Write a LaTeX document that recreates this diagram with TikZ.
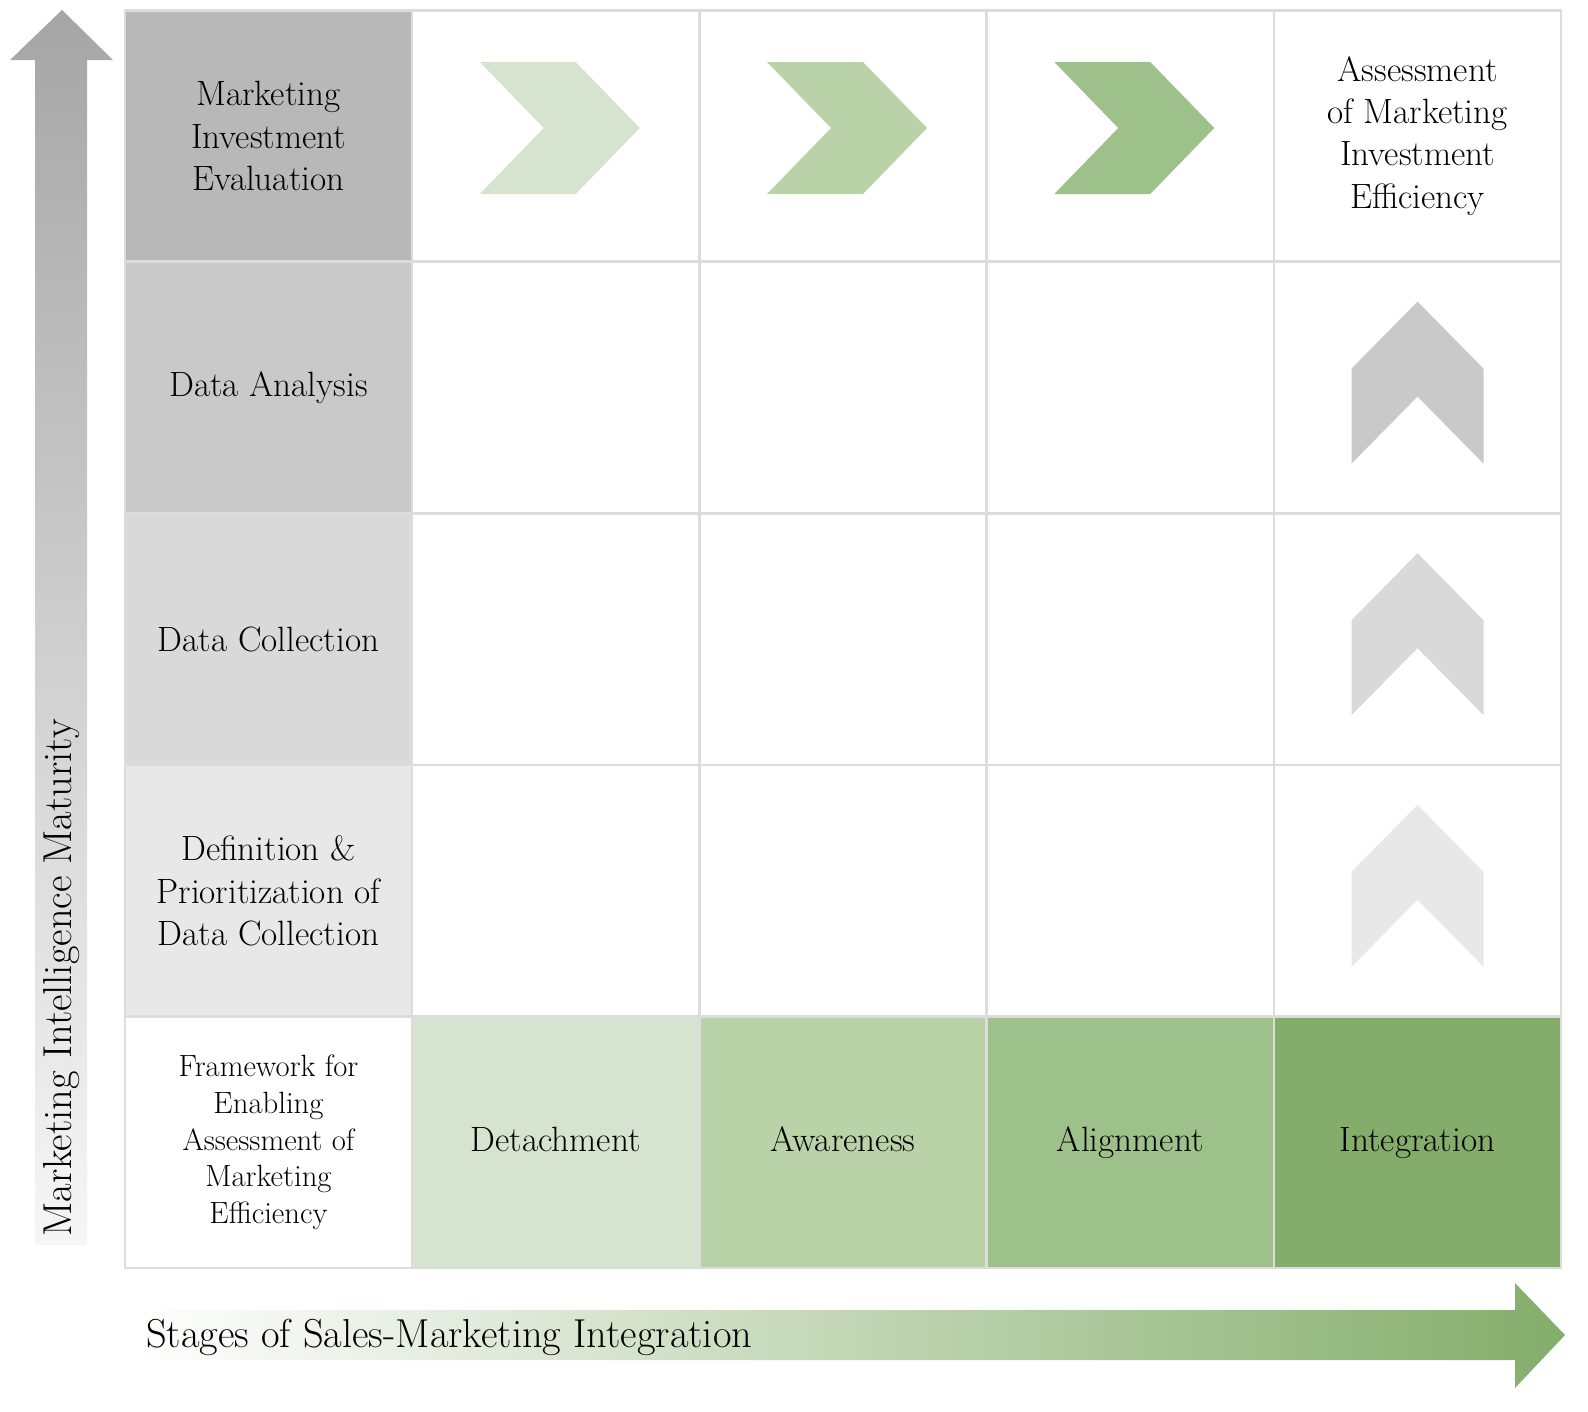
\documentclass[tikz,border=0pt]{standalone}
\usepackage{amsmath}
\usetikzlibrary{positioning, shapes, arrows.meta}
\definecolor{gridline}{HTML}{DCDCDC}
\definecolor{greyA}{HTML}{B8B8B8}
\definecolor{greyB}{HTML}{C9C9C9}
\definecolor{greyC}{HTML}{D9D9D9}
\definecolor{greyD}{HTML}{E8E8E8}
\definecolor{greenA}{HTML}{D6E3CE}
\definecolor{greenB}{HTML}{B9D2A8}
\definecolor{greenC}{HTML}{9EC08A}
\definecolor{greenD}{HTML}{84AD6B}
\newcommand{\txt}{\fontsize{20}{24}\selectfont}

\begin{document}
\begin{tikzpicture}[
	x=0.02cm,
	y=-0.02cm,
	every cell/.style={draw=gridline, line width=1.2pt, minimum width=5.74cm, minimum height=5.02cm, align=center, font=\txt, inner sep=0pt},
	stage/.style={every cell, text height=14pt, text depth=4pt}
]
\useasboundingbox (0,0) rectangle (1588,1411);

% vertical arrow
\shade[top color=greyA!90!black, bottom color=greyD!40] (35,1245) -- (35,60) -- (10,60) -- (62,10) -- (113,60) -- (87,60) -- (87,1245) -- cycle;
\node[rotate=90, anchor=west, font=\fontsize{23}{27}\selectfont] (ylab) at (62,1243) {Marketing Intelligence Maturity};

% horizontal arrow
\shade[left color=white, right color=greenD] (130,1310) -- (1515,1310) -- (1515,1283) -- (1565,1335) -- (1515,1388) -- (1515,1360) -- (130,1360) -- cycle;
\node[anchor=west, font=\fontsize{23}{27}\selectfont] (xlab) at (140,1337) {Stages of Sales-Marketing Integration};

% grid
\foreach \c in {0,...,4}
  \foreach \r in {0,...,4}
    \node[every cell/.try] (c\c\r) at ({268.5+287.25*\c},{136+251.6*\r}) {};

% row headers
\node[every cell/.try, fill=greyA] (h0) at (c00) {Marketing\\Investment\\Evaluation};
\node[every cell/.try, fill=greyB] (h1) at (c01) {Data Analysis};
\node[every cell/.try, fill=greyC] (h2) at (c02) {Data Collection};
\node[every cell/.try, fill=greyD] (h3) at (c03) {Definition \&\\Prioritization of\\Data Collection};
\node[every cell/.try, fill=white, font=\fontsize{17.5}{21}\selectfont] (h4) at (c04) {Framework for\\Enabling\\Assessment of\\Marketing\\Efficiency};

% stages
\node[stage, fill=greenA] (s1) at (c14) {Detachment};
\node[stage, fill=greenB] (s2) at (c24) {Awareness};
\node[stage, fill=greenC] (s3) at (c34) {Alignment};
\node[stage, fill=greenD] (s4) at (c44) {Integration};
\node[align=center, font=\txt] (goal) at (c40) {Assessment\\of Marketing\\Investment\\Efficiency};

% chevrons
\foreach \c/\col in {1/greenA, 2/greenB, 3/greenC}
  \fill[\col, shift={(c\c0)}] (-76,-74) -- (20,-74) -- (84,-8) -- (20,58) -- (-76,58) -- (-12,-8) -- cycle;
\foreach \r/\col in {1/greyB, 2/greyC, 3/greyD}
  \fill[\col, shift={(c4\r)}] (-66,-19) -- (0,-86) -- (66,-19) -- (66,76) -- (0,9) -- (-66,76) -- cycle;

\end{tikzpicture}
\end{document}
